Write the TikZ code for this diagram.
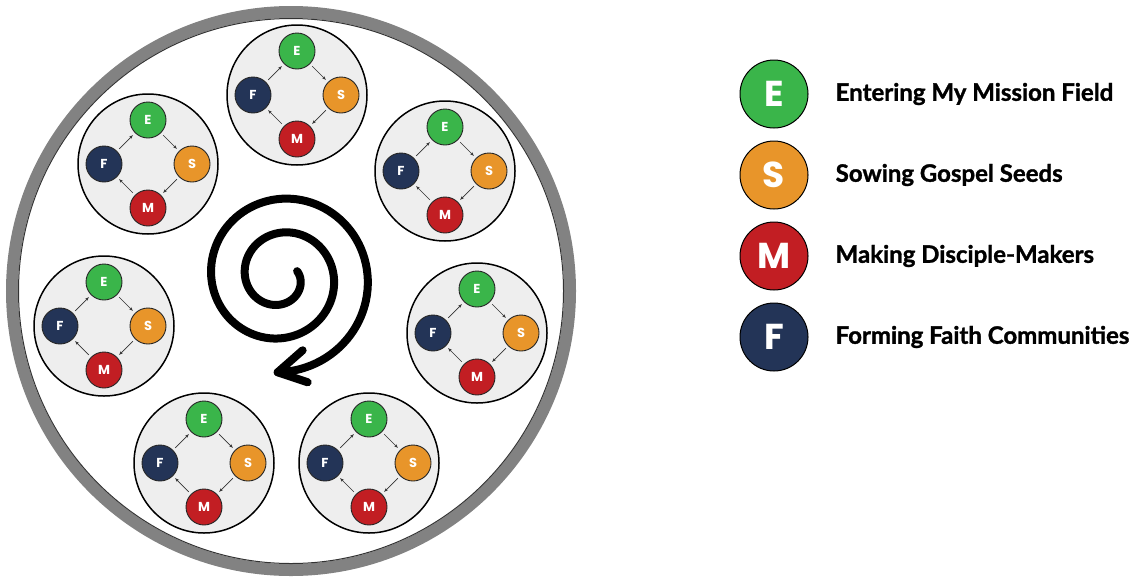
\documentclass[tikz,border=0pt]{standalone}
\usepackage{fontspec}
\setmainfont{Lato}
\newfontfamily\letterfont{Poppins}
\newfontfamily\labelfont{Lato}[BoldFeatures={FakeBold=1.3}]
\usetikzlibrary{
  arrows.meta,
  positioning,
  calc
}
\definecolor{EGreen}{HTML}{3AB54A}
\definecolor{SOrange}{HTML}{E8952A}
\definecolor{MRed}{HTML}{C21E23}
\definecolor{FNavy}{HTML}{233457}
\definecolor{RimGrey}{HTML}{828282}
\definecolor{PaleGrey}{HTML}{EEEEEE}
\tikzset{
  % Outer rim
  rim/.style={
    circle, draw=RimGrey, line width=12pt,
    minimum size=558pt, inner sep=0pt
  },
  % Thin line inside the rim
  rimline/.style={
    circle, draw=black!80, line width=1pt,
    minimum size=545pt, inner sep=0pt
  },
  % Cluster disc
  grp/.style={
    circle, draw=black, line width=1.5pt, fill=PaleGrey,
    minimum size=140pt, inner sep=0pt
  },
  % Letter disc inside a cluster
  dot/.style={
    circle, draw=black!85, line width=0.9pt, fill=#1,
    minimum size=36pt, inner sep=0pt, text=white,
    font=\letterfont\bfseries\fontsize{13}{13}\selectfont
  },
  % Legend disc
  key/.style={
    circle, draw=black, line width=1pt, fill=#1,
    minimum size=68pt, inner sep=0pt, text=white,
    font=\letterfont\bfseries\fontsize{36}{36}\selectfont
  },
  % Legend label
  lbl/.style={anchor=west, inner sep=0pt, font=\labelfont\bfseries\fontsize{24}{24}\selectfont},
  % Small cycle arrow
  arr/.style={
    -{Stealth[length=4pt,width=3pt]},
    line width=0.7pt, color=black!80,
    shorten <=3pt, shorten >=3pt
  },
  % Spiral stroke
  coil/.style={line width=8pt, line cap=round, line join=round}
}

\begin{document}
\begin{tikzpicture}[x=1pt,y=-1pt]
  \useasboundingbox (0,0) rectangle (1142,576);

  % Big disc
  \node[rim]     (outer) at (291,291) {};
  \node[rimline] (inner) at (outer.center) {};

  % Seven E-S-M-F cycles round the disc
  \foreach \n/\cx/\cy in {1/297/95, 2/148/164, 3/445/171, 4/104/326, 5/477/333, 6/204/463, 7/369/463}{
    \node[grp] (c\n) at (\cx,\cy) {};
    \node[dot=EGreen]  (e\n) at ([yshift=44pt]c\n.center)  {E};
    \node[dot=SOrange] (s\n) at ([xshift=44pt]c\n.center)  {S};
    \node[dot=MRed]    (m\n) at ([yshift=-44pt]c\n.center) {M};
    \node[dot=FNavy]   (f\n) at ([xshift=-44pt]c\n.center) {F};
    \draw[arr] (e\n) -- (s\n);
    \draw[arr] (s\n) -- (m\n);
    \draw[arr] (m\n) -- (f\n);
    \draw[arr] (f\n) -- (e\n);
  }

  % Spiral in the middle, ending in an open arrowhead
  \draw[coil] plot[domain=-20:812, samples=240, variable=\t]
    ({281+(19+0.094*\t)*cos(\t)}, {277+(19+0.094*\t)*sin(\t)}) coordinate (tip);
  \draw[coil] ([shift={(25,-22)}]tip) -- (tip) -- ([shift={(30,10)}]tip);

  % Legend
  \node[key=EGreen]                      (ke) at (774,94) {E};
  \node[key=SOrange, below=12pt of ke]   (ks) {S};
  \node[key=MRed,    below=12pt of ks]   (km) {M};
  \node[key=FNavy,   below=12pt of km]   (kf) {F};
  \node[lbl, right=27pt of ke] (te) {Entering My Mission Field};
  \node[lbl, right=27pt of ks] (ts) {Sowing Gospel Seeds};
  \node[lbl, right=27pt of km] (tm) {Making Disciple-Makers};
  \node[lbl, right=27pt of kf] (tf) {Forming Faith Communities};

\end{tikzpicture}
\end{document}
